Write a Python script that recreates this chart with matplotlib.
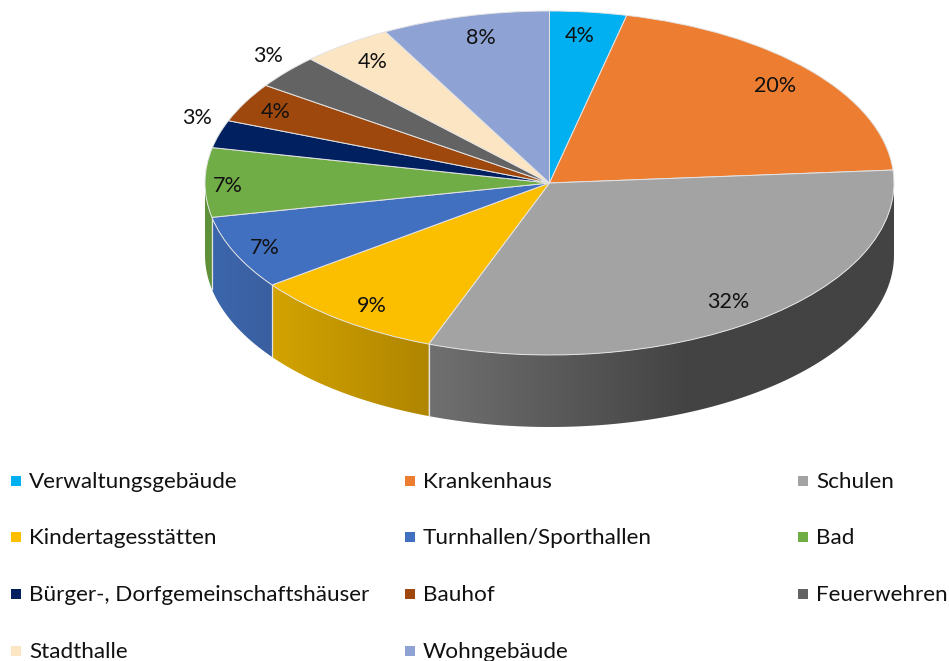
import numpy as np
import matplotlib
matplotlib.use("Agg")
import matplotlib.pyplot as plt
from matplotlib.patches import Rectangle, Polygon
from matplotlib.transforms import Affine2D
from matplotlib.colors import to_rgb

plt.rcParams['font.family'] = ['Lato', 'DejaVu Sans']

categories = ["Verwaltungsgebäude", "Krankenhaus", "Schulen", "Kindertagesstätten",
              "Turnhallen/Sporthallen", "Bad", "Bürger-, Dorfgemeinschaftshäuser",
              "Bauhof", "Feuerwehren", "Stadthalle", "Wohngebäude"]
values = [3.6, 20.2, 31.9, 9.2, 6.9, 6.5, 2.6, 3.7, 3.2, 4.3, 7.9]
value_labels = ["4%", "20%", "32%", "9%", "7%", "7%", "3%", "4%", "3%", "4%", "8%"]
colors = ["#00B0F0", "#ED7D31", "#A3A3A3", "#FBBF00", "#4270C0", "#70AD47",
          "#002060", "#9E480E", "#636363", "#FBE5C3", "#8FA2D4"]
side_left = ["#00B0F0", "#ED7D31", "#707070", "#D2A300", "#3C66AC", "#5F9139",
             "#002060", "#9E480E", "#636363", "#FBE5C3", "#8FA2D4"]
side_right = ["#00B0F0", "#ED7D31", "#434343", "#B08500", "#3A5FA0", "#5F9139",
              "#002060", "#9E480E", "#636363", "#FBE5C3", "#8FA2D4"]

W, H = 949, 661
CX, CY, RX, RY, DEPTH = 549.5, 183.0, 344.5, 172.0, 72.0
label_px = [(580, 35), (775, 85), (728, 301), (372, 305), (265, 247), (228, 184),
            (197, 117), (276, 111), (268, 54), (373, 60), (481, 37)]
legend_cols = [11, 405, 798]
legend_rows = [481, 537, 594, 651]
EDGE = "#E4E4E4"

fig = plt.figure(figsize=(W / 100, H / 100), dpi=100)
ax = fig.add_axes([0, 0, 1, 1])
wedges, _ = ax.pie(values, colors=colors, startangle=90, counterclock=False,
                   wedgeprops=dict(edgecolor=EDGE, linewidth=0.7), normalize=True)
for w in wedges:
    w.set_zorder(3)
xlim = (-CX / RX, (W - CX) / RX)
ylim = (-(H - CY) / RY, CY / RY)
px = Affine2D().scale(1 / W, -1 / H).translate(0, 1) + fig.transFigure

# side wall, built from the same values
depth = DEPTH / RY
edges = np.cumsum([0] + values) / sum(values) * 2 * np.pi
for i in range(len(values)):
    a0, a1 = max(edges[i], np.pi / 2), min(edges[i + 1], 3 * np.pi / 2)
    if a1 <= a0:
        continue
    phi = np.linspace(a0, a1, 200)
    xs, ys = np.sin(phi), np.cos(phi)
    xl, xr = xs.min(), xs.max()
    span = 260 / RX if categories[i] == "Schulen" else xr - xl
    c0, c1 = np.array(to_rgb(side_left[i])), np.array(to_rgb(side_right[i]))
    t = np.clip(np.linspace(0, 1, 400) * (xr - xl) / span, 0, 1)[None, :, None]
    grad = c0[None, None, :] + (c1 - c0)[None, None, :] * t
    outline = np.r_[np.c_[xs, ys], np.c_[xs[::-1], ys[::-1] - depth]]
    clip = Polygon(outline, closed=True, transform=ax.transData, facecolor='none',
                   edgecolor='none')
    ax.add_patch(clip)
    im = ax.imshow(grad, extent=(xl, xr, ys.min() - depth, ys.max()), aspect='auto',
                   interpolation='bilinear', zorder=1)
    im.set_clip_path(clip)
    for a in (a0, a1):
        if np.pi / 2 < a < 3 * np.pi / 2:
            ax.plot([np.sin(a)] * 2, [np.cos(a), np.cos(a) - depth], color=EDGE,
                    lw=0.8, zorder=2)

ax.set_aspect('auto')
ax.set_xlim(*xlim)
ax.set_ylim(*ylim)
ax.set_axis_off()

for (x, y), s in zip(label_px, value_labels):
    ax.text(x, y + 7.5, s, transform=px, ha='center', va='baseline', fontsize=15.5,
            color="#111111", zorder=5)

n_cols = len(legend_cols)
for k, (name, col) in enumerate(zip(categories, colors)):
    x = legend_cols[k % n_cols]
    y = legend_rows[k // n_cols]
    ax.add_patch(Rectangle((x, y - 5), 10, 10, transform=px, facecolor=col,
                           edgecolor='none', clip_on=False, zorder=5))
    ax.text(x + 18, y + 7, name, transform=px, ha='left', va='baseline', fontsize=16.2,
            color="#111111", clip_on=False, zorder=5)

fig.savefig("out.png", dpi=100)
